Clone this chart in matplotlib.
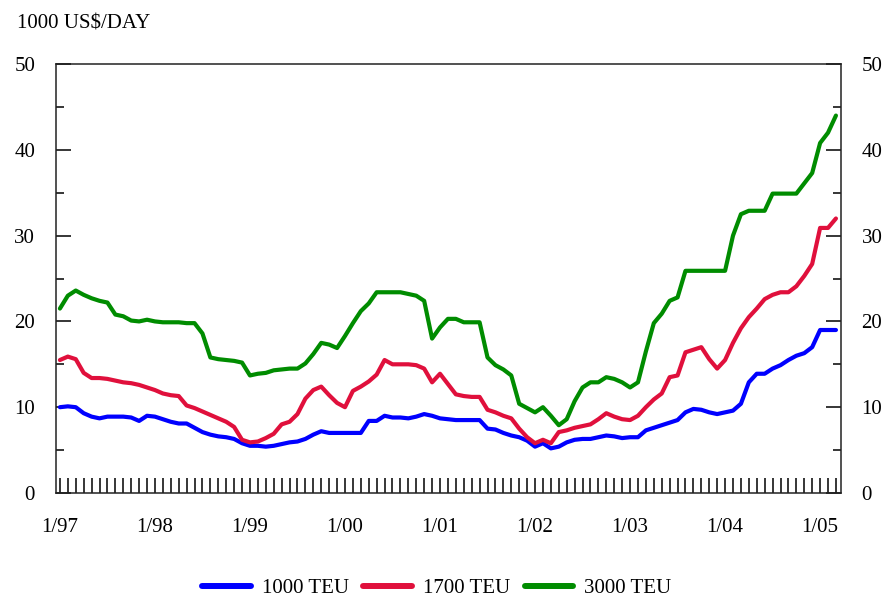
import matplotlib
matplotlib.use("Agg")
import matplotlib.pyplot as plt
import numpy as np
from matplotlib.ticker import MultipleLocator


# monthly charter rates, 1/97 .. 3/05 (1000 US$/day)
teu_1000 = [
    10.0, 10.1, 10.0, 9.3, 8.9, 8.7, 8.9, 8.9, 8.9, 8.8, 8.4, 9.0,
    8.9, 8.6, 8.3, 8.1, 8.1, 7.6, 7.1, 6.8, 6.6, 6.5, 6.3, 5.8,
    5.5, 5.5, 5.4, 5.5, 5.7, 5.9, 6.0, 6.3, 6.8, 7.2, 7.0, 7.0,
    7.0, 7.0, 7.0, 8.4, 8.4, 9.0, 8.8, 8.8, 8.7, 8.9, 9.2, 9.0,
    8.7, 8.6, 8.5, 8.5, 8.5, 8.5, 7.5, 7.4, 7.0, 6.7, 6.5, 6.1,
    5.4, 5.8, 5.2, 5.4, 5.9, 6.2, 6.3, 6.3, 6.5, 6.7, 6.6, 6.4,
    6.5, 6.5, 7.3, 7.6, 7.9, 8.2, 8.5, 9.4, 9.8, 9.7, 9.4, 9.2,
    9.4, 9.6, 10.4, 12.9, 13.9, 13.9, 14.5, 14.9, 15.5, 16.0, 16.3, 17.0,
    19.0, 19.0, 19.0,
]

teu_1700 = [
    15.5, 15.9, 15.6, 14.0, 13.4, 13.4, 13.3, 13.1, 12.9, 12.8, 12.6, 12.3,
    12.0, 11.6, 11.4, 11.3, 10.2, 9.9, 9.5, 9.1, 8.7, 8.3, 7.7, 6.2,
    5.9, 6.0, 6.4, 6.9, 8.0, 8.3, 9.2, 11.0, 12.0, 12.4, 11.4, 10.5,
    10.0, 11.9, 12.4, 13.0, 13.8, 15.5, 15.0, 15.0, 15.0, 14.9, 14.5, 12.9,
    13.9, 12.7, 11.5, 11.3, 11.2, 11.2, 9.7, 9.4, 9.0, 8.7, 7.5, 6.5,
    5.8, 6.2, 5.8, 7.1, 7.3, 7.6, 7.8, 8.0, 8.6, 9.3, 8.9, 8.6,
    8.5, 9.0, 10.0, 10.9, 11.6, 13.5, 13.7, 16.4, 16.7, 17.0, 15.6, 14.5,
    15.5, 17.5, 19.2, 20.5, 21.5, 22.6, 23.1, 23.4, 23.4, 24.1, 25.3, 26.7,
    30.9, 30.9, 32.0,
]

teu_3000 = [
    21.5, 23.0, 23.6, 23.1, 22.7, 22.4, 22.2, 20.8, 20.6, 20.1, 20.0, 20.2,
    20.0, 19.9, 19.9, 19.9, 19.8, 19.8, 18.6, 15.8, 15.6, 15.5, 15.4, 15.2,
    13.7, 13.9, 14.0, 14.3, 14.4, 14.5, 14.5, 15.1, 16.2, 17.5, 17.3, 16.9,
    18.3, 19.8, 21.2, 22.1, 23.4, 23.4, 23.4, 23.4, 23.2, 23.0, 22.4, 18.0,
    19.3, 20.3, 20.3, 19.9, 19.9, 19.9, 15.8, 14.9, 14.4, 13.7, 10.4, 9.9,
    9.4, 10.0, 9.0, 7.9, 8.6, 10.7, 12.3, 12.9, 12.9, 13.5, 13.3, 12.9,
    12.3, 12.9, 16.5, 19.8, 20.9, 22.4, 22.8, 25.9, 25.9, 25.9, 25.9, 25.9,
    25.9, 30.0, 32.5, 32.9, 32.9, 32.9, 34.9, 34.9, 34.9, 34.9, 36.1, 37.3,
    40.8, 42.0, 44.0,
]

series_names = ["1000 TEU", "1700 TEU", "3000 TEU"]
year_labels = ["1/97", "1/98", "1/99", "1/00", "1/01", "1/02", "1/03", "1/04", "1/05"]
y_labels = ["0", "10", "20", "30", "40", "50"]

colors = ["#0000ff", "#e0103c", "#008c00"]


def main():
    plt.rcParams["font.family"] = ["Liberation Serif", "DejaVu Serif"]

    months = np.arange(len(teu_1000))

    fig = plt.figure(figsize=(8.84, 5.99), dpi=100)
    ax = fig.add_axes([0.0633, 0.177, 0.8877, 0.716])

    for values, name, color in zip([teu_1000, teu_1700, teu_3000], series_names, colors):
        ax.plot(months, values, color=color, linewidth=3.0, label=name,
                solid_joinstyle="round", solid_capstyle="round")

    ax.set_xlim(-0.5, 98.6)
    ax.set_ylim(0, 50)

    # x axis: a tick for every month, labels every January
    ax.set_xticks(np.arange(0, len(year_labels) * 12, 12))
    ax.set_xticklabels(year_labels)
    ax.set_xticks(months, minor=True)
    ax.tick_params(axis="x", which="both", direction="in", length=11, width=1.1,
                   top=False, labelsize=15, pad=18)

    ax.set_yticks(np.arange(0, 51, 10))
    ax.set_yticklabels(y_labels)
    ax.yaxis.set_minor_locator(MultipleLocator(5))
    ax.tick_params(axis="y", which="major", direction="in", length=11, width=1.1,
                   left=True, right=True, labelleft=True, labelright=True,
                   labelsize=15, pad=15)
    ax.tick_params(axis="y", which="minor", direction="in", length=6, width=1.1,
                   left=True, right=True)

    for spine in ax.spines.values():
        spine.set_linewidth(1.1)
        spine.set_color("#222222")

    fig.text(17 / 884, 1 - 24 / 599, "1000 US$/DAY", fontsize=15, va="center", ha="left")

    leg = fig.legend(loc="center", bbox_to_anchor=(0.494, 0.018), ncol=3, frameon=False,
                     fontsize=15, handlelength=2.35, handletextpad=0.5, columnspacing=0.7)
    for line in leg.get_lines():
        line.set_linewidth(4.3)

    fig.savefig("out.png", dpi=100)
    plt.close(fig)


if __name__ == "__main__":
    main()
